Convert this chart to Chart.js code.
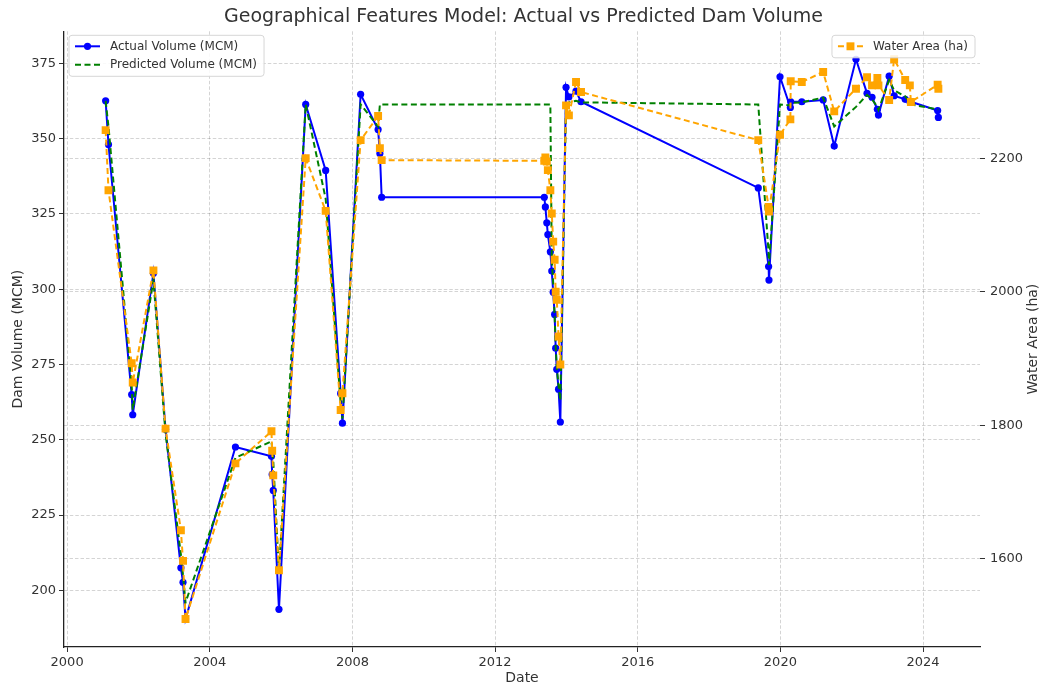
<!DOCTYPE html>
<html>
<head>
<meta charset="utf-8">
<script src="https://cdn.jsdelivr.net/npm/chart.js@4.4.0/dist/chart.umd.min.js"></script>
<style>
  html, body { margin: 0; padding: 0; background: #fff; }
  #wrap { width: 1047px; height: 690px; }
</style>
</head>
<body>
<div id="wrap"><canvas id="damChart" width="1047" height="690"></canvas></div>
<script>
// dates as decimal years
const dates = [
  2001.08, 2001.16, 2001.81, 2001.84, 2002.42, 2002.76, 2003.19, 2003.25, 2003.32, 2004.72,
  2005.73, 2005.75, 2005.78, 2005.94, 2006.69, 2007.25, 2007.67, 2007.72, 2008.23, 2008.72,
  2008.77, 2008.82, 2013.38, 2013.41, 2013.45, 2013.48, 2013.55, 2013.59, 2013.63, 2013.67,
  2013.70, 2013.73, 2013.78, 2013.83, 2013.99, 2014.07, 2014.27, 2014.41, 2019.38, 2019.67,
  2019.68, 2019.99, 2020.28, 2020.29, 2020.60, 2021.20, 2021.51, 2022.12, 2022.43, 2022.57,
  2022.72, 2022.75, 2023.05, 2023.19, 2023.50, 2023.63, 2023.66, 2024.41, 2024.43
];
const actualVolume = [
  362.5, 348.0, 265.0, 258.3, 305.3, 253.5, 207.5, 202.7, 190.5, 247.6,
  244.5, 238.5, 233.2, 193.7, 361.3, 339.4, 265.4, 255.5, 364.7, 353.0,
  345.0, 330.5, 330.5, 327.3, 322.0, 318.1, 312.4, 306.0, 299.0, 291.6,
  280.4, 273.4, 266.8, 255.9, 367.0, 363.8, 365.7, 362.2, 333.6, 307.5,
  303.0, 370.5, 360.3, 362.2, 362.2, 362.8, 347.5, 376.3, 365.0, 363.7,
  359.7, 357.8, 370.7, 364.2, 363.0, 362.3, 362.2, 359.3, 357.0
];
const predictedVolume = [
  362.5, 354.0, 268.0, 260.0, 303.0, 252.0, 212.0, 205.0, 196.0, 244.0,
  249.5, 247.0, 243.0, 206.0, 361.3, 330.0, 262.0, 257.0, 361.3, 354.0,
  361.3, 361.3, 361.3, 361.3, 361.3, 361.3, 361.3, 310.0, 302.0, 291.0,
  281.0, 274.0, 268.0, 263.0, 361.5, 362.0, 362.5, 362.0, 361.3, 312.0,
  308.0, 361.3, 361.0, 361.8, 362.0, 363.6, 354.0, 360.5, 364.5, 363.0,
  360.5, 359.5, 369.4, 366.0, 364.0, 362.0, 361.3, 359.7, 359.7
];
const waterArea = [
  2242, 2152, 1893, 1864, 2032, 1795, 1643, 1597, 1510, 1743,
  1791, 1762, 1725, 1583, 2200, 2121, 1823, 1848, 2227, 2263,
  2215, 2197, 2196, 2201, 2195, 2182, 2152, 2117, 2075, 2048,
  2000, 1988, 1933, 1891, 2279, 2264, 2314, 2299, 2227, 2127,
  2120, 2235, 2258, 2315, 2314, 2329, 2270, 2304, 2321, 2309,
  2320, 2309, 2287, 2348, 2317, 2309, 2284, 2310, 2304
];
const yearTicks = [2000, 2004, 2008, 2012, 2016, 2020, 2024];
const volumeTicks = [200, 225, 250, 275, 300, 325, 350, 375];
const areaTicks = [1600, 1800, 2000, 2200];

// 5% margins, like matplotlib autoscale
const withMargin = (vals) => {
  const lo = Math.min(...vals), hi = Math.max(...vals), m = (hi - lo) * 0.05;
  return [lo - m, hi + m];
};
const xLim = withMargin(dates);
const volLim = withMargin(actualVolume.concat(predictedVolume));
const areaLim = withMargin(waterArea);

const FONT = 'DejaVu Sans';
const TEXT = '#333';
const GRID = 'rgba(0,0,0,0.17)';
Chart.defaults.font.family = FONT;
Chart.defaults.color = TEXT;

const toPoints = (vals) => dates.map((d, i) => ({ x: d, y: vals[i] }));
const fixTicks = (list) => (scale) => { scale.ticks = list.map(v => ({ value: v })); };

// two matplotlib-style legend boxes + right axis label (reads bottom to top)
const extras = {
  id: 'extras',
  afterDraw(chart) {
    const ctx = chart.ctx, area = chart.chartArea;
    const sets = chart.data.datasets;
    const box = (items, right) => {
      ctx.save();
      ctx.font = '12px "' + FONT + '"';
      const tw = Math.max(...items.map(i => ctx.measureText(sets[i].label).width));
      const w = 41 + tw + 7;
      const h = 22.5 + 18.5 * (items.length - 1);
      const x = right ? area.right - 5 - w : area.left + 5;
      const y = area.top + 4;
      ctx.beginPath();
      ctx.roundRect(x, y, w, h, 3);
      ctx.fillStyle = 'rgba(255,255,255,0.85)';
      ctx.fill();
      ctx.strokeStyle = '#d6d6d6';
      ctx.lineWidth = 1;
      ctx.stroke();
      items.forEach((i, row) => {
        const ds = sets[i];
        const cy = y + 11 + row * 18.5;
        ctx.strokeStyle = ds.borderColor;
        ctx.lineWidth = ds.borderWidth;
        ctx.setLineDash(ds.borderDash || []);
        ctx.beginPath();
        ctx.moveTo(x + 6, cy);
        ctx.lineTo(x + 31, cy);
        ctx.stroke();
        ctx.setLineDash([]);
        ctx.fillStyle = ds.borderColor;
        const mx = x + 18.5;
        if (ds.pointStyle === 'circle' && ds.pointRadius > 0) {
          ctx.beginPath();
          ctx.arc(mx, cy, ds.pointRadius, 0, Math.PI * 2);
          ctx.fill();
        } else if (ds.pointStyle === 'rect') {
          const s = ds.pointRadius * Math.SQRT1_2;
          ctx.fillRect(mx - s, cy - s, 2 * s, 2 * s);
        }
        ctx.fillStyle = TEXT;
        ctx.textBaseline = 'middle';
        ctx.textAlign = 'left';
        ctx.fillText(ds.label, x + 41, cy + 0.5);
      });
      ctx.restore();
    };
    box([0, 1], false);
    box([2], true);

    ctx.save();
    ctx.font = '14px "' + FONT + '"';
    ctx.fillStyle = TEXT;
    ctx.textAlign = 'center';
    ctx.textBaseline = 'middle';
    ctx.translate(chart.width - 14, (area.top + area.bottom) / 2);
    ctx.rotate(-Math.PI / 2);
    ctx.fillText('Water Area (ha)', 0, 0);
    ctx.restore();
  }
};

const axisBase = {
  border: { color: '#222', width: 1.3, dash: [3.5, 2] },
  grid: { color: GRID, lineWidth: 1, tickColor: '#333', tickLength: 5, tickBorderDash: [] },
  ticks: { font: { size: 13 }, color: TEXT, padding: 3 }
};

new Chart(document.getElementById('damChart').getContext('2d'), {
  type: 'line',
  data: {
    datasets: [
      {
        label: 'Actual Volume (MCM)',
        data: toPoints(actualVolume),
        yAxisID: 'y',
        borderColor: 'blue',
        backgroundColor: 'blue',
        borderWidth: 2,
        pointStyle: 'circle',
        pointRadius: 3.6,
        pointBorderWidth: 0,
        order: 3
      },
      {
        label: 'Predicted Volume (MCM)',
        data: toPoints(predictedVolume),
        yAxisID: 'y',
        borderColor: 'green',
        backgroundColor: 'green',
        borderWidth: 2,
        borderDash: [6, 3.5],
        pointRadius: 0,
        order: 2
      },
      {
        label: 'Water Area (ha)',
        data: toPoints(waterArea),
        yAxisID: 'y2',
        borderColor: 'orange',
        backgroundColor: 'orange',
        borderWidth: 2,
        borderDash: [6, 3.5],
        pointStyle: 'rect',
        pointRadius: 5.6,
        pointBorderWidth: 0,
        order: 1
      }
    ]
  },
  options: {
    responsive: false,
    animation: false,
    devicePixelRatio: 1,
    layout: { padding: 0 },
    plugins: {
      legend: { display: false },
      tooltip: { enabled: false },
      title: {
        display: true,
        text: 'Geographical Features Model: Actual vs Predicted Dam Volume',
        font: { size: 19, weight: 'normal' },
        color: TEXT,
        padding: { top: 5.5, bottom: 3 }
      }
    },
    scales: {
      x: {
        ...axisBase,
        type: 'linear',
        min: xLim[0],
        max: xLim[1],
        afterBuildTicks: fixTicks(yearTicks),
        afterFit: (s) => { s.height = 43; },
        ticks: { ...axisBase.ticks, callback: (v) => String(v) },
        title: { display: true, text: 'Date', font: { size: 14 }, color: TEXT, padding: { bottom: 3.5 } }
      },
      y: {
        ...axisBase,
        position: 'left',
        min: volLim[0],
        max: volLim[1],
        afterBuildTicks: fixTicks(volumeTicks),
        afterFit: (s) => { s.width = 64; },
        ticks: { ...axisBase.ticks, callback: (v) => String(v) },
        title: { display: true, text: 'Dam Volume (MCM)', font: { size: 14 }, color: TEXT, padding: { top: 10 } }
      },
      y2: {
        ...axisBase,
        position: 'right',
        min: areaLim[0],
        max: areaLim[1],
        border: { display: false, dash: [3.5, 2] },
        afterBuildTicks: fixTicks(areaTicks),
        afterFit: (s) => { s.width = 67; },
        ticks: { ...axisBase.ticks, padding: 5, callback: (v) => String(v) }
      }
    }
  },
  plugins: [extras]
});
</script>
</body>
</html>
